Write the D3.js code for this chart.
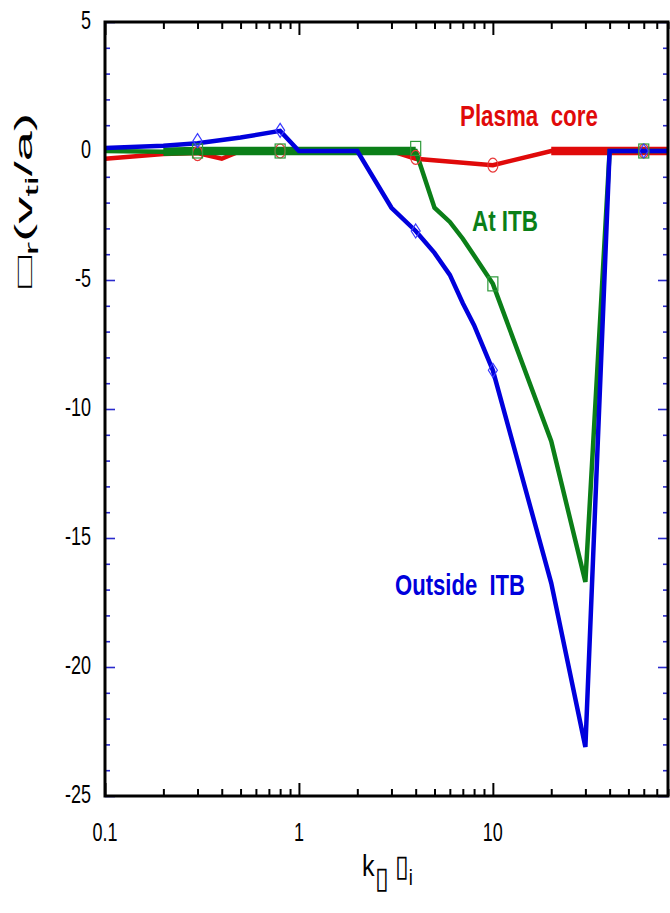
<!DOCTYPE html>
<html>
<head>
<meta charset="utf-8">
<script src="https://cdn.jsdelivr.net/npm/d3@7"></script>
<style>
  html, body { margin: 0; padding: 0; background: #fff; }
  svg { display: block; }
  text { font-family: "Liberation Sans", Arial, Helvetica, sans-serif; }
</style>
</head>
<body>
<svg id="chart" width="670" height="913"></svg>
<script>
// Real frequency of the most unstable mode vs. normalised wavenumber k⊥ρi

// Plasma core
const kCore = [0.1, 0.2, 0.3, 0.4, 0.5, 0.8, 1, 2, 3, 4, 10, 20, 30, 40, 80];
const core  = [-0.3, -0.12, -0.08, -0.3, 0, 0, 0, 0, 0, -0.3, -0.55, 0, 0, 0, 0];

// At the transport barrier
const kBarrier = [0.1, 0.2, 0.3, 0.8, 1, 2, 3, 4, 5, 6, 7, 8, 10, 20, 30, 40, 80];
const barrier  = [0, -0.03, 0, 0, 0, 0, 0, 0, -2.2, -2.75, -3.4, -4.05, -5.15, -11.25, -16.7, 0, 0];

// Outside the transport barrier
const kOuter = [0.1, 0.2, 0.3, 0.5, 0.8, 1, 2, 3, 4, 5, 6, 7, 8, 10, 20, 30, 40, 80];
const outer  = [0.12, 0.2, 0.3, 0.52, 0.78, 0, 0, -2.2, -3.1, -3.95, -4.8, -5.9, -6.75, -8.5, -16.75, -23.1, 0, 0];

// Symbols placed on each curve
const markerK      = [0.3, 0.8, 4, 10, 60];
const coreMarks    = [-0.1, 0, -0.25, -0.55, 0];
const barrierMarks = [0, 0, 0.1, -5.15, 0];
const outerMarks   = [0.4, 0.8, -3.1, -8.5, 0];

const xTickValues = [0.1, 1, 10];
const xTickLabels = ["0.1", "1", "10"];
const yTickValues = [5, 0, -5, -10, -15, -20, -25];
const yTickLabels = ["5", "0", "-5", "-10", "-15", "-20", "-25"];

const seriesNames = ["Plasma  core", "At ITB", "Outside  ITB"];

// ---------------------------------------------------------------
const svg = d3.select("#chart");
const plot = { left: 105, right: 668, top: 22, bottom: 796 };

const x = d3.scaleLog().domain([0.1, 80]).range([plot.left, plot.right]);
const y = d3.scaleLinear().domain([-25, 5]).range([plot.bottom, plot.top]);

const colors = { core: "#e00a0a", barrier: "#0b7f18", outer: "#0000dc" };
const markColors = { core: "#e83a3a", barrier: "#2e9a3a", outer: "#3a3aff" };
const tickBlue = "#2a2acc";

// ---- axes: ticks point inwards on all four sides
const majorX = xTickValues;
const minorX = x.ticks().filter(v => !majorX.some(m => Math.abs(m - v) < 1e-9));
const majorY = yTickValues;
const minorY = d3.range(-25, 5.001, 1).filter(v => v % 5 !== 0);

function styleAxis(g, color, width) {
  g.select(".domain").remove();
  g.selectAll(".tick line").attr("stroke", color).attr("stroke-width", width);
  g.selectAll(".tick text").remove();
}

// bottom
svg.append("g").attr("transform", `translate(0,${plot.bottom})`)
  .call(d3.axisTop(x).tickValues(minorX).tickSize(7).tickFormat(""))
  .call(g => styleAxis(g, "#000", 2));
svg.append("g").attr("transform", `translate(0,${plot.bottom})`)
  .call(d3.axisTop(x).tickValues(majorX).tickSize(13).tickFormat(""))
  .call(g => styleAxis(g, "#000", 2));
// top
svg.append("g").attr("transform", `translate(0,${plot.top})`)
  .call(d3.axisBottom(x).tickValues(minorX).tickSize(7).tickFormat(""))
  .call(g => styleAxis(g, "#000", 2));
svg.append("g").attr("transform", `translate(0,${plot.top})`)
  .call(d3.axisBottom(x).tickValues(majorX).tickSize(13).tickFormat(""))
  .call(g => styleAxis(g, "#000", 2));
// left
svg.append("g").attr("transform", `translate(${plot.left},0)`)
  .call(d3.axisRight(y).tickValues(minorY).tickSize(5).tickFormat(""))
  .call(g => styleAxis(g, tickBlue, 1.6));
svg.append("g").attr("transform", `translate(${plot.left},0)`)
  .call(d3.axisRight(y).tickValues(majorY).tickSize(10).tickFormat(""))
  .call(g => styleAxis(g, tickBlue, 1.6));
// right
svg.append("g").attr("transform", `translate(${plot.right},0)`)
  .call(d3.axisLeft(y).tickValues(minorY).tickSize(5).tickFormat(""))
  .call(g => styleAxis(g, tickBlue, 1.6));
svg.append("g").attr("transform", `translate(${plot.right},0)`)
  .call(d3.axisLeft(y).tickValues(majorY).tickSize(10).tickFormat(""))
  .call(g => styleAxis(g, tickBlue, 1.6));

// ---- curves
const toPts = (ks, vs) => ks.map((k, i) => ({ k, v: vs[i] }));
const line = d3.line().x(d => x(d.k)).y(d => y(d.v));

const curves = [
  { key: "core",    pts: toPts(kCore, core),       heavy: [20, 80] },
  { key: "barrier", pts: toPts(kBarrier, barrier), heavy: [0.2, 4] },
  { key: "outer",   pts: toPts(kOuter, outer),     heavy: null }
];

const curveG = svg.append("g").attr("fill", "none");
curves.forEach(c => {
  curveG.append("path")
    .attr("d", line(c.pts))
    .attr("stroke", colors[c.key])
    .attr("stroke-width", 4.5)
    .attr("stroke-linejoin", "miter")
    .attr("stroke-miterlimit", 6);
  if (c.heavy) {
    const seg = c.pts.filter(p => p.k >= c.heavy[0] - 1e-9 && p.k <= c.heavy[1] + 1e-9);
    curveG.append("path")
      .attr("d", line(seg))
      .attr("stroke", colors[c.key])
      .attr("stroke-width", 8.5);
  }
});
// the outer curve sits on top of the others
curveG.selectAll("path").filter(function () { return this.getAttribute("stroke") === colors.outer; }).raise();

// ---- symbols
const markG = svg.append("g").attr("fill", "none").attr("stroke-width", 1.2);
markerK.forEach((k, i) => {
  markG.append("ellipse")
    .attr("cx", x(k)).attr("cy", y(coreMarks[i]))
    .attr("rx", 5).attr("ry", 7)
    .attr("stroke", markColors.core);
  markG.append("rect")
    .attr("x", x(k) - 5).attr("y", y(barrierMarks[i]) - 7)
    .attr("width", 10).attr("height", 14)
    .attr("stroke", markColors.barrier);
  const cx = x(k), cy = y(outerMarks[i]);
  markG.append("path")
    .attr("d", `M${cx},${cy - 7}L${cx + 4.5},${cy}L${cx},${cy + 7}L${cx - 4.5},${cy}Z`)
    .attr("stroke", markColors.outer);
});

// ---- frame
svg.append("rect")
  .attr("x", plot.left).attr("y", plot.top)
  .attr("width", plot.right - plot.left).attr("height", plot.bottom - plot.top)
  .attr("fill", "none").attr("stroke", "#000").attr("stroke-width", 3);

// ---- tick labels (narrow sans)
const tickSize = 25, narrow = 0.72;
xTickValues.forEach((v, i) => {
  svg.append("text")
    .attr("transform", `translate(${x(v)},841) scale(${narrow},1)`)
    .attr("text-anchor", "middle")
    .attr("font-size", tickSize)
    .text(xTickLabels[i]);
});
yTickValues.forEach((v, i) => {
  svg.append("text")
    .attr("transform", `translate(91,${y(v) + 7}) scale(${narrow},1)`)
    .attr("text-anchor", "end")
    .attr("font-size", tickSize)
    .text(yTickLabels[i]);
});

// stretch/squeeze a text element to a given horizontal width
function fitWidth(t, target) {
  const w = t.node().getBBox().width;
  t.attr("transform", `scale(${target / w},1)`);
}

// ---- curve annotations
const notes = [
  { text: seriesNames[0], key: "core",    x: 460, y: 126, w: 138 },
  { text: seriesNames[1], key: "barrier", x: 472, y: 231, w: 66 },
  { text: seriesNames[2], key: "outer",   x: 395, y: 595, w: 130 }
];
notes.forEach(n => {
  const g = svg.append("g").attr("transform", `translate(${n.x},${n.y})`);
  const t = g.append("text")
    .attr("font-size", 29).attr("font-weight", "bold")
    .attr("fill", colors[n.key])
    .style("white-space", "pre")
    .text(n.text);
  fitWidth(t, n.w);
});

// ---- axis titles
const xt = svg.append("g").attr("transform", "translate(362,876)")
  .append("text").attr("font-size", 30);
xt.append("tspan").text("k");
xt.append("tspan").attr("dy", 12).text("▯");
xt.append("tspan").attr("dy", -12).style("white-space", "pre").text(" ▯");
xt.append("tspan").attr("font-size", 22).attr("dy", 9).text("i");
fitWidth(xt, 52);

const yt = svg.append("g").attr("transform", "translate(32,288) rotate(-90)")
  .append("text").attr("font-size", 24);
yt.append("tspan").text("□");
yt.append("tspan").attr("font-size", 18).attr("dy", 6).text("r");
yt.append("tspan").attr("dy", -6).text("(v");
yt.append("tspan").attr("font-size", 18).attr("dy", 6).text("ti");
yt.append("tspan").attr("dy", -6).text("/a)");
fitWidth(yt, 175);
</script>
</body>
</html>
